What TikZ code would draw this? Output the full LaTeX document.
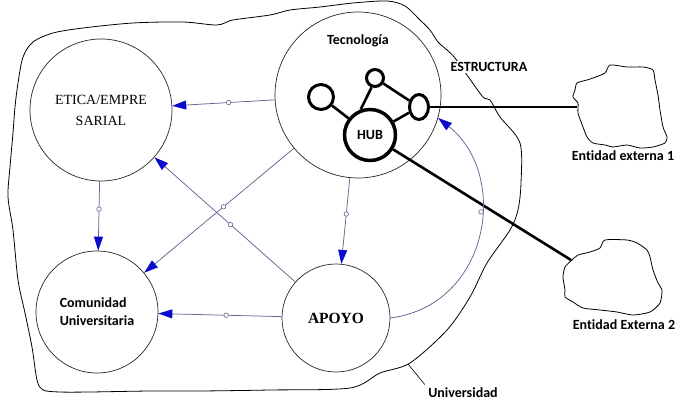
\documentclass[tikz,border=0pt]{standalone}
\usepackage{fontspec}
\setmainfont{Carlito}[Ligatures=NoCommon]
\newfontfamily\timesf{Liberation Serif}
\usetikzlibrary{arrows.meta,shapes.geometric}
\definecolor{wire}{RGB}{100,100,145}
\definecolor{tipblue}{RGB}{10,10,205}

\begin{document}
\begin{tikzpicture}[x=1pt,y=-1pt,font=\fontsize{14}{18}\selectfont\bfseries]
\tikzstyle{bubble}=[draw=black!85, circle, line width=0.7pt, inner sep=0pt]
\tikzstyle{ring}=[draw, circle, line width=3pt, inner sep=0pt]
\tikzstyle{cable}=[line width=2.6pt]
\tikzstyle{blob}=[draw, line width=0.8pt]
\tikzstyle{flow}=[draw=wire, line width=0.75pt, -{Triangle[length=14pt,width=9pt,color=tipblue]}]
\tikzstyle{bead}=[draw=wire, fill=white, circle, line width=0.6pt, inner sep=0pt, minimum size=4.5pt]
\useasboundingbox (0,0) rectangle (678,404);

% Universidad
\draw[blob] plot[smooth cycle, tension=0.5] coordinates {(33,42) (53,33) (83,28) (133,23) (183,22) (217,25) (233,20) (270,15) (290,10) (320,7) (353,3) (387,1) (405,6) (420,20) (430,30) (438,42) (447,50) (455,58) (467,75) (483,97) (490,100) (500,117) (520,143) (521,183) (518,210) (510,230) (487,263) (470,297) (447,330) (410,363) (380,373) (350,388) (270,390) (200,391) (150,391) (90,392) (60,392) (43,390) (37,380) (32,347) (25,313) (18,280) (13,230) (8,197) (10,167) (13,133) (15,107) (18,83) (23,57)};
\node[fill=white, inner sep=1pt] (est) at (489,67) {ESTRUCTURA};
\coordinate (ub) at (408,364);
\node (uni) at (463,393) {Universidad};
\draw[line width=0.6pt] (ub) -- (uni.north west);

% the four areas
\node[bubble, minimum size=142pt, align=center, font=\fontsize{14}{21}\selectfont\timesf] (et) at (101,110) {ETICA/EMPRE\\SARIAL};
\node[bubble, minimum size=166pt] (tec) at (358,95) {};
\node (tl) at (358,41) {Tecnología};
\node[bubble, minimum size=122pt, align=left] (com) at (97,312) {Comunidad\\Universitaria};
\node[bubble, minimum size=108pt, font=\fontsize{15.5}{19}\selectfont\timesf\bfseries] (apo) at (336,318) {APOYO};

% red interna
\node[ring] (n1) at (321,97) [minimum size=25pt] {};
\node[ring] (n2) at (375,78) [minimum size=17pt] {};
\node[ring, ellipse, minimum width=19pt, minimum height=25pt] (ell) at (419,107) {};
\node[ring, line width=3.5pt, minimum size=51pt] (hub) at (370,135) {HUB};
\draw[cable] (n1) -- (hub);
\draw[cable] (n2.250) -- (hub.110);
\draw[cable] (n2) -- (ell);
\draw[cable] (hub) -- (ell);

% entidades externas
\draw[blob] plot[smooth cycle, tension=0.4] coordinates {(575,90) (573,97) (578,103) (578,113) (583,127) (587,137) (593,143) (605,145) (613,147) (627,145) (640,148) (653,147) (665,143) (667,137) (663,127) (660,110) (658,95) (655,80) (653,70) (643,67) (627,67) (610,65) (605,73) (593,78) (587,80) (577,83)};
\draw[blob] plot[smooth cycle, tension=0.4] coordinates {(572,260) (565,267) (563,277) (565,290) (565,297) (573,302) (583,308) (600,310) (617,312) (633,315) (650,312) (660,303) (662,290) (658,283) (653,270) (650,257) (647,250) (637,243) (627,240) (605,240) (600,248) (590,252) (578,255)};
\coordinate (e1) at (577,107);
\coordinate (e2) at (571,260);
\node (l1) at (623,156) {Entidad externa 1};
\node (l2) at (624,325) {Entidad Externa 2};
\draw[cable] (ell) -- (e1);
\draw[cable] (hub) -- (e2);

% flujos
\path[flow] (tec) edge node[bead, pos=0.45] {} (et);
\path[flow] (et) edge node[bead, pos=0.4] {} (com);
\path[flow] (tec) edge node[bead, pos=0.47] {} (com);
\path[flow] (apo) edge node[bead, pos=0.46] {} (et);
\path[flow] (apo) edge node[bead, pos=0.45] {} (com);
\path[flow] (tec) edge node[bead, pos=0.42] {} (apo);
\draw[flow] (apo.0) .. controls (490,305) and (510,175) .. (tec.-16) node[bead, pos=0.59] {};
\end{tikzpicture}
\end{document}
